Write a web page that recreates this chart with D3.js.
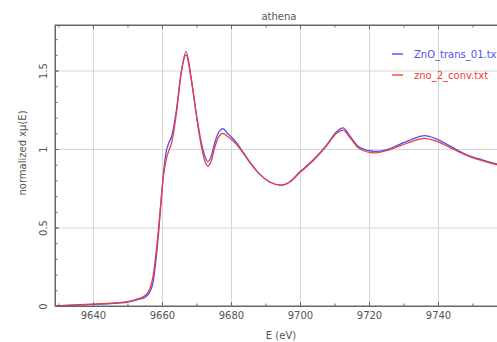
<!DOCTYPE html>
<html>
<head>
<meta charset="utf-8">
<script src="https://cdn.jsdelivr.net/npm/d3@7"></script>
<style>
  body { margin: 0; background: #fff; }
  svg { display: block; }
  text { font-family: 'DejaVu Sans', sans-serif; fill: #555; }
  .axis path, .axis line { stroke: #666; }
  .grid line { stroke: #d6d6d6; }
  .grid path { stroke: none; }
</style>
</head>
<body>
<div id="chart"></div>
<script>
// energy grid (eV)
const energy = [9629, 9635, 9640, 9645, 9650, 9653, 9655, 9656.5, 9657.5, 9658.3, 9659, 9659.8,
  9660.5, 9661.3, 9662, 9662.8, 9664.2, 9665.6, 9667, 9668.5, 9670, 9671.4, 9672.5, 9673.3,
  9674.2, 9675.3, 9676.5, 9677.7, 9679, 9681.6, 9683.5, 9685.4, 9688.3, 9691.2, 9694.6, 9697,
  9700, 9703.8, 9707.7, 9710.6, 9712.5, 9714.4, 9717.3, 9721.7, 9725, 9728.9, 9732.8, 9736.1,
  9739.5, 9743.4, 9748.2, 9753, 9757, 9762]

const znoTrans = [0.0, 0.005, 0.01, 0.015, 0.025, 0.04, 0.055, 0.09, 0.16, 0.30, 0.46, 0.68,
  0.86, 0.99, 1.04, 1.08, 1.25, 1.49, 1.60, 1.44, 1.22, 1.04, 0.95, 0.92,
  0.95, 1.04, 1.11, 1.13, 1.10, 1.04, 0.98, 0.92, 0.84, 0.79, 0.77, 0.79,
  0.855, 0.93, 1.025, 1.11, 1.135, 1.085, 1.01, 0.985, 0.995, 1.03, 1.065, 1.085,
  1.065, 1.02, 0.965, 0.93, 0.905, 0.88]

const znoConv = [0.0, 0.007, 0.012, 0.018, 0.028, 0.045, 0.065, 0.11, 0.20, 0.34, 0.49, 0.69,
  0.84, 0.94, 0.99, 1.04, 1.23, 1.49, 1.62, 1.45, 1.21, 1.02, 0.92, 0.89,
  0.92, 1.01, 1.08, 1.10, 1.08, 1.03, 0.975, 0.915, 0.84, 0.79, 0.77, 0.79,
  0.85, 0.925, 1.02, 1.10, 1.12, 1.075, 1.0, 0.975, 0.99, 1.02, 1.05, 1.068,
  1.05, 1.01, 0.96, 0.925, 0.9, 0.875]

const seriesNames = ['ZnO_trans_01.txt', 'zno_2_conv.txt']
const seriesColors = ['#4f4ff5', '#f23a3a']
const xMajor = [9640, 9660, 9680, 9700, 9720, 9740]
const xMinor = [9630, 9650, 9670, 9690, 9710, 9730, 9750]
const yMajor = [0, 0.5, 1, 1.5]

const width = 497
const height = 342
const margin = {left: 55, top: 25, right: -10, bottom: 36}
const innerW = width - margin.left - margin.right
const innerH = height - margin.top - margin.bottom

const svg = d3.select('#chart').append('svg')
  .attr('width', width)
  .attr('height', height)

const x = d3.scaleLinear().domain([9629, 9760]).range([0, innerW])
const y = d3.scaleLinear().domain([0, 1.79]).range([innerH, 0])

const g = svg.append('g')
  .attr('transform', 'translate(' + margin.left + ',' + margin.top + ')')

// grid
g.append('g').attr('class', 'grid')
  .attr('transform', 'translate(0,' + innerH + ')')
  .call(d3.axisBottom(x).tickValues(xMajor).tickSize(-innerH).tickFormat(''))
g.append('g').attr('class', 'grid')
  .call(d3.axisLeft(y).tickValues(yMajor.slice(1)).tickSize(-innerW).tickFormat(''))

// curves
g.append('clipPath').attr('id', 'clip')
  .append('rect').attr('width', innerW).attr('height', innerH)

const line = d3.line()
  .x(d => x(d[0]))
  .y(d => y(d[1]))
  .curve(d3.curveMonotoneX)

;[znoTrans, znoConv].forEach((vals, i) => {
  g.append('path')
    .datum(energy.map((e, j) => [e, vals[j]]))
    .attr('clip-path', 'url(#clip)')
    .attr('fill', 'none')
    .attr('stroke', seriesColors[i])
    .attr('stroke-width', 1.3)
    .attr('d', line)
})

// frame
g.append('rect')
  .attr('width', innerW).attr('height', innerH)
  .attr('fill', 'none').attr('stroke', '#666')

// axes, ticks pointing inward
const bottom = g.append('g').attr('class', 'axis')
  .attr('transform', 'translate(0,' + innerH + ')')
  .call(d3.axisBottom(x).tickValues(xMajor).tickSizeInner(-4).tickSizeOuter(0).tickPadding(6).tickFormat(d3.format('d')))
bottom.selectAll('text').style('font-size', '10px')
g.append('g').attr('class', 'axis')
  .attr('transform', 'translate(0,' + innerH + ')')
  .call(d3.axisBottom(x).tickValues(xMinor).tickSizeInner(-2.5).tickSizeOuter(0).tickFormat(''))
g.append('g').attr('class', 'axis')
  .call(d3.axisTop(x).tickValues(xMajor).tickSizeInner(-4).tickSizeOuter(0).tickFormat(''))
g.append('g').attr('class', 'axis')
  .call(d3.axisTop(x).tickValues(xMinor).tickSizeInner(-2.5).tickSizeOuter(0).tickFormat(''))

const left = g.append('g').attr('class', 'axis')
  .call(d3.axisLeft(y).tickValues(yMajor).tickSizeInner(-4).tickSizeOuter(0).tickPadding(8).tickFormat(d => String(d)))
left.selectAll('text')
  .style('font-size', '10px')
  .attr('text-anchor', 'middle')
  .attr('x', null).attr('dy', null)
  .attr('transform', 'translate(-8,0) rotate(-90)')
g.append('g').attr('class', 'axis')
  .call(d3.axisLeft(y).ticks(18).tickSizeInner(-2.5).tickSizeOuter(0).tickFormat(''))
g.selectAll('.axis path').attr('stroke', 'none')

// labels
svg.append('text')
  .attr('x', margin.left + innerW / 2 - 2).attr('y', 20)
  .attr('text-anchor', 'middle').style('font-size', '10px')
  .text('athena')
svg.append('text')
  .attr('x', margin.left + innerW / 2).attr('y', 339)
  .attr('text-anchor', 'middle').style('font-size', '10px')
  .text('E (eV)')
svg.append('text')
  .attr('transform', 'translate(26,153) rotate(-90)')
  .attr('text-anchor', 'middle').style('font-size', '10px')
  .text('normalized xμ(E)')

// legend (the reference crops the first name at the right edge too)
const legend = svg.append('g').attr('transform', 'translate(392,54)')
seriesNames.forEach((name, i) => {
  const row = legend.append('g').attr('transform', 'translate(0,' + (i * 21) + ')')
  row.append('line')
    .attr('x1', 0).attr('x2', 11)
    .attr('stroke', seriesColors[i]).attr('stroke-width', 1.4)
  row.append('text')
    .attr('x', 22).attr('y', 4)
    .style('font-size', '10px')
    .style('fill', seriesColors[i])
    .text(name)
})
</script>
</body>
</html>
